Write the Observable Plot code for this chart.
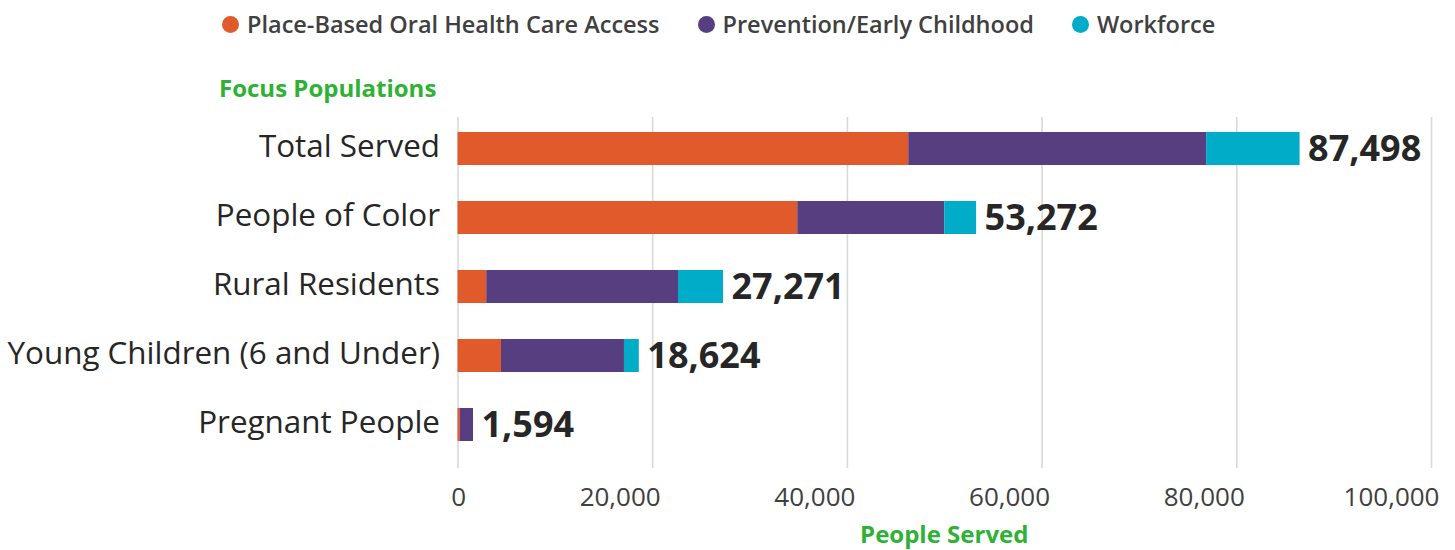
<!DOCTYPE html>
<html>
<head>
<meta charset="utf-8">
<script src="https://cdn.jsdelivr.net/npm/d3@7"></script>
<script src="https://cdn.jsdelivr.net/npm/@observablehq/plot@0.6"></script>
<style>
  html, body { margin: 0; padding: 0; background: #fff; }
  body { width: 1455px; height: 550px; overflow: hidden; font-family: "Open Sans", sans-serif; }
  #header { position: relative; height: 100px; }
  #legend { position: absolute; left: 222px; top: 8px; display: flex; align-items: center; font-size: 23.5px; font-weight: 600; color: #404040; white-space: nowrap; }
  .item { display: flex; align-items: center; margin-right: 38px; }
  .dot { width: 17px; height: 17px; border-radius: 50%; margin-right: 8px; }
  #ytitle { position: absolute; left: 219px; top: 71px; font-size: 24px; font-weight: 700; color: #2EB135; white-space: nowrap; }
</style>
</head>
<body>
<div id="header">
  <div id="legend"></div>
  <div id="ytitle">Focus Populations</div>
</div>
<div id="chart"></div>
<script>
const categories = ["Total Served", "People of Color", "Rural Residents", "Young Children (6 and Under)", "Pregnant People"];
const seriesNames = ["Place-Based Oral Health Care Access", "Prevention/Early Childhood", "Workforce"];
const seriesColors = ["#E15A2B", "#573E81", "#00ACC8"];
const placeBased = [46300, 34900, 2950, 4470, 240];
const prevention = [30600, 15100, 19700, 12630, 1354];
const workforce = [9600, 3272, 4621, 1524, 0];
const totals = [87498, 53272, 27271, 18624, 1594];
const xTicks = [0, 20000, 40000, 60000, 80000, 100000];

const seriesValues = [placeBased, prevention, workforce];
const data = [];
categories.forEach((c, i) => {
  seriesNames.forEach((s, j) => {
    data.push({category: c, series: s, value: seriesValues[j][i]});
  });
});
const labelData = categories.map((c, i) => ({
  category: c,
  end: placeBased[i] + prevention[i] + workforce[i],
  text: d3.format(",")(totals[i])
}));

// Legend (HTML, above the SVG)
const legend = d3.select("#legend");
seriesNames.forEach((s, j) => {
  const it = legend.append("div").attr("class", "item");
  it.append("div").attr("class", "dot").style("background", seriesColors[j]);
  it.append("span").text(s);
});

const chart = Plot.plot({
  width: 1455,
  height: 450,
  marginLeft: 457.5,
  marginRight: 24,
  marginTop: 13,
  marginBottom: 89,
  style: {fontFamily: "Open Sans, sans-serif", background: "#fff", overflow: "visible"},
  x: {domain: [0, 100000], label: null},
  y: {domain: categories, paddingInner: 0.515, paddingOuter: 0.2575, label: null},
  color: {domain: seriesNames, range: seriesColors},
  marks: [
    Plot.gridX(xTicks, {stroke: "#d9d9d9", strokeOpacity: 1, strokeWidth: 1.6, insetTop: 4, insetBottom: -7}),
    Plot.axisX(xTicks, {tickSize: 0, tickPadding: 26, tickFormat: d3.format(","), textAnchor: "end", dx: 8, fontSize: 26, fill: "#404040", label: null}),
    Plot.axisY({tickSize: 0, tickPadding: 18, fontSize: 31.4, dy: -2, fill: "#262626", label: null}),
    Plot.barX(data, {x: "value", y: "category", fill: "series"}),
    Plot.text(labelData, {x: "end", y: "category", text: "text", textAnchor: "start", dx: 8, fontSize: 36, fontWeight: 700, fill: "#262626"})
  ]
});
document.getElementById("chart").appendChild(chart);

// x-axis title
const svg = d3.select(chart);
svg.append("text")
  .attr("x", (457.5 + 1431) / 2)
  .attr("y", 443)
  .attr("text-anchor", "middle")
  .attr("font-size", 24)
  .attr("font-weight", 700)
  .attr("fill", "#2EB135")
  .text("People Served");
</script>
</body>
</html>
